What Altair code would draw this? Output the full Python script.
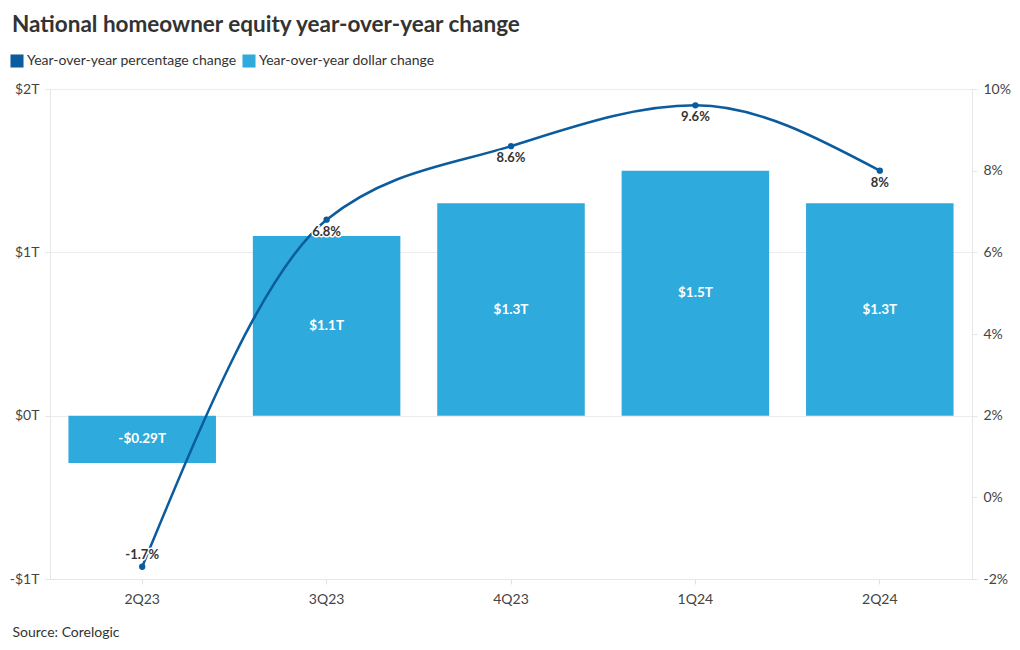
import altair as alt
import pandas as pd

quarters = ["2Q23", "3Q23", "4Q23", "1Q24", "2Q24"]
dollar_change = [-0.29, 1.1, 1.3, 1.5, 1.3]
dollar_labels = ["-$0.29T", "$1.1T", "$1.3T", "$1.5T", "$1.3T"]
pct_change = [-1.7, 6.8, 8.6, 9.6, 8.0]
pct_labels = ["-1.7%", "6.8%", "8.6%", "9.6%", "8%"]

SER_PCT = "Year-over-year percentage change"
SER_DOL = "Year-over-year dollar change"
DARK = "#0b5c9e"
LIGHT = "#2eaadc"
FONT = "Lato"

df = pd.DataFrame({
    "q": quarters,
    "d": dollar_change,
    "dl": dollar_labels,
    "p": pct_change,
    "pl": pct_labels,
})

x = alt.X("q:N", sort=quarters, title="Source: Corelogic",
          scale=alt.Scale(paddingInner=0.2, paddingOuter=0.1),
          axis=alt.Axis(labelAngle=0, labelFont=FONT, labelFontSize=14, labelColor="#444",
                        labelPadding=8, tickColor="#e0e0e0", tickSize=5, domainColor="#e6e6e6",
                        titleFont=FONT, titleFontSize=14, titleFontWeight="normal", titleColor="#333",
                        titleAnchor="start", titleAlign="left", titleBaseline="middle",
                        titleX=-38, titleY=53))

yl_scale = alt.Scale(domain=[-1, 2], nice=False, zero=False)
yl_axis = alt.Axis(values=[-1, 0, 1, 2], orient="left", title=None,
                   labelExpr="datum.value < 0 ? '-$' + abs(datum.value) + 'T' : '$' + datum.value + 'T'",
                   labelFont=FONT, labelFontSize=14, labelColor="#444", labelPadding=6,
                   grid=True, gridColor="#ececec", domainColor="#e6e6e6",
                   tickColor="#e6e6e6", tickSize=5)

bars = alt.Chart(df).mark_bar(color=LIGHT).encode(
    x=x, y=alt.Y("d:Q", title=None, scale=yl_scale, axis=yl_axis), y2=alt.datum(0),
    color=alt.Color("series:N",
                    scale=alt.Scale(domain=[SER_PCT, SER_DOL], range=[DARK, LIGHT]),
                    legend=alt.Legend(title=None, orient="none", legendX=-40, legendY=-35,
                                      direction="horizontal", symbolType="square",
                                      symbolSize=170, symbolStrokeWidth=0, labelFont=FONT,
                                      labelFontSize=14, labelColor="#333", columnPadding=5,
                                      labelOffset=3, labelLimit=0)),
).transform_calculate(series=f"'{SER_DOL}'")

bar_mid = alt.Chart(df).transform_calculate(mid="datum.d / 2").mark_text(
    font=FONT, fontSize=13.5, fontWeight="bold", color="white"
).encode(x=x, y=alt.Y("mid:Q", title=None, scale=yl_scale, axis=yl_axis), text="dl:N")

left = alt.layer(bars, bar_mid)

yr_scale = alt.Scale(domain=[-2, 10], nice=False, zero=False)
yr_axis = alt.Axis(values=[-2, 0, 2, 4, 6, 8, 10], orient="right", title=None,
                   labelExpr="datum.value + '%'", grid=False,
                   labelFont=FONT, labelFontSize=14, labelColor="#444", labelPadding=6,
                   domainColor="#e6e6e6", tickColor="#e6e6e6", tickSize=5)
yr = alt.Y("p:Q", title=None, scale=yr_scale, axis=yr_axis)

line = alt.Chart(df).mark_line(color=DARK, strokeWidth=2.5, interpolate="monotone").encode(x=x, y=yr)
pts = alt.Chart(df).mark_point(filled=True, color=DARK, size=40, opacity=1).encode(x=x, y=yr)


def lbl(cond, dy, halo):
    kw = dict(font=FONT, fontSize=13, fontWeight="bold", dy=dy)
    if halo:
        kw.update(stroke="white", strokeWidth=3, strokeJoin="round", color="white")
    else:
        kw.update(color="#333")
    return alt.Chart(df).transform_filter(cond).mark_text(**kw).encode(
        x=x, y=yr, text="pl:N")


labels = alt.layer(
    lbl("datum.p >= 0", 12, True), lbl("datum.p >= 0", 12, False),
    lbl("datum.p < 0", -12, True), lbl("datum.p < 0", -12, False),
)

right = alt.layer(line, pts, labels)

chart = alt.layer(left, right).resolve_scale(y="independent").properties(
    width=922, height=490,
    padding={"left": 42, "top": 81, "right": 40, "bottom": 60},
    autosize=alt.AutoSizeParams(type="none"),
    title=alt.TitleParams("National homeowner equity year-over-year change",
                          anchor="start", frame="group", font=FONT, fontSize=22.5,
                          fontWeight="bold", color="#333", dx=-38, offset=7, baseline="middle"),
).configure_view(stroke=None).configure(background="white")

chart.save("out.html", embed_options={"renderer": "svg", "actions": False})
